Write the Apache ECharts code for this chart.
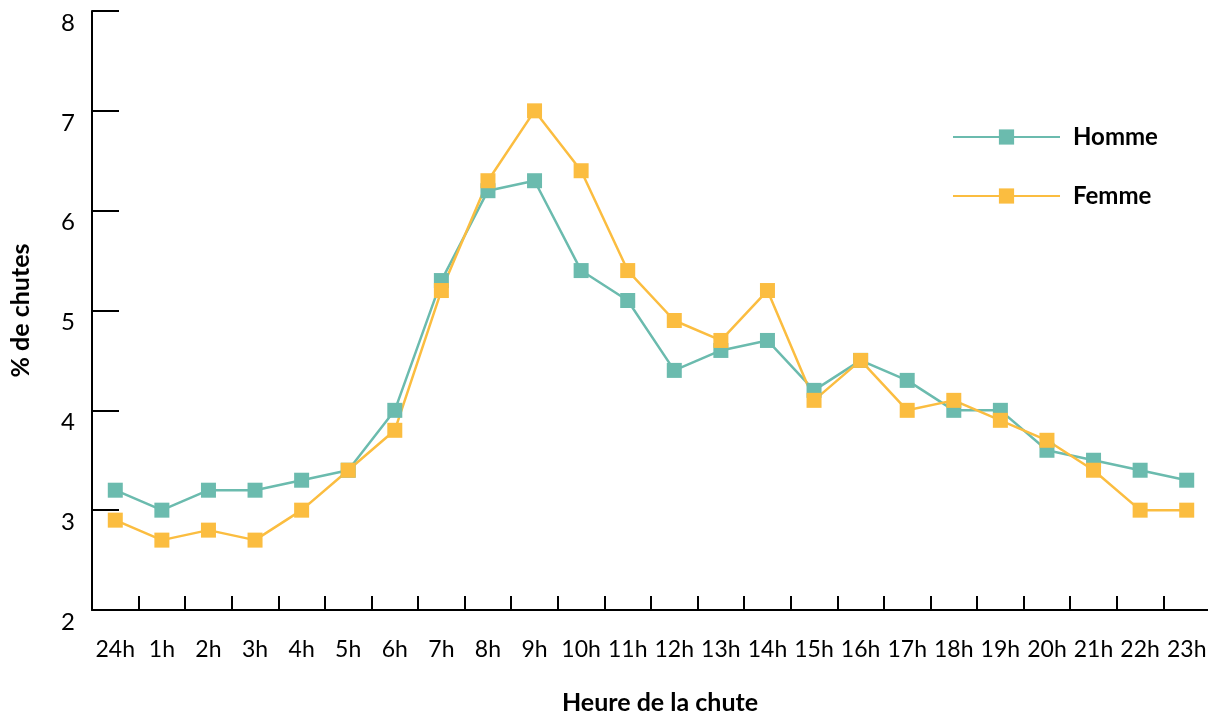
<!DOCTYPE html>
<html><head><meta charset="utf-8">
<script src="https://cdn.jsdelivr.net/npm/echarts@6/dist/echarts.min.js"></script>
<style>html,body{margin:0;padding:0;background:#fff}#c{width:1208px;height:714px}</style>
</head><body><div id="c"></div>
<script>
const categories = ['24h','1h','2h','3h','4h','5h','6h','7h','8h','9h','10h','11h','12h','13h','14h','15h','16h','17h','18h','19h','20h','21h','22h','23h'];
const homme = [3.2,3.0,3.2,3.2,3.3,3.4,4.0,5.3,6.2,6.3,5.4,5.1,4.4,4.6,4.7,4.2,4.5,4.3,4.0,4.0,3.6,3.5,3.4,3.3];
const femme = [2.9,2.7,2.8,2.7,3.0,3.4,3.8,5.2,6.3,7.0,6.4,5.4,4.9,4.7,5.2,4.1,4.5,4.0,4.1,3.9,3.7,3.4,3.0,3.0];
const yTicks = {min:2, max:8, interval:1};
const FONT = 'Lato';
const chart = echarts.init(document.getElementById('c'), null, {renderer:'canvas'});
chart.setOption({
  animation:false,
  textStyle:{fontFamily:FONT},
  grid:{left:92, top:11, width:1118, bottom:104, containLabel:false, outerBoundsMode:'none'},
  legend:{
    orient:'vertical', left:947, top:120, itemGap:35,
    itemWidth:107, itemHeight:19,
    textStyle:{fontFamily:FONT, fontSize:24, fontWeight:'bold', color:'#000', padding:[0,0,0,8]},
    data:['Homme','Femme']
  },
  xAxis:{
    type:'category', data:categories, boundaryGap:true,
    name:'Heure de la chute', nameLocation:'middle', nameGap:80,
    nameTextStyle:{fontFamily:FONT, fontSize:25, fontWeight:'bold', color:'#000', padding:[0,0,0,18]},
    axisLine:{show:true, lineStyle:{color:'#000', width:2}},
    axisTick:{show:true, inside:true, length:14, lineStyle:{color:'#000', width:2}, interval:0},
    axisLabel:{show:true, interval:0, fontFamily:FONT, fontSize:23, color:'#000', margin:28},
    splitLine:{show:false}
  },
  yAxis:{
    type:'value', min:yTicks.min, max:yTicks.max, interval:yTicks.interval,
    name:'% de chutes', nameLocation:'middle', nameGap:59,
    nameTextStyle:{fontFamily:FONT, fontSize:25, fontWeight:'bold', color:'#000'},
    axisLine:{show:true, lineStyle:{color:'#000', width:2}},
    axisTick:{show:true, inside:true, length:27, lineStyle:{color:'#000', width:2}},
    axisLabel:{fontFamily:FONT, fontSize:24, color:'#000', margin:17, verticalAlign:'top', padding:[0,0,0,0]},
    splitLine:{show:false}
  },
  series:[
    {name:'Homme', type:'line', data:homme, symbol:'rect', symbolSize:15,
     itemStyle:{color:'#6bbbae'}, lineStyle:{color:'#6bbbae', width:2.5}},
    {name:'Femme', type:'line', data:femme, symbol:'rect', symbolSize:15,
     itemStyle:{color:'#fbbd40'}, lineStyle:{color:'#fbbd40', width:2.5}}
  ]
});
</script></body></html>
